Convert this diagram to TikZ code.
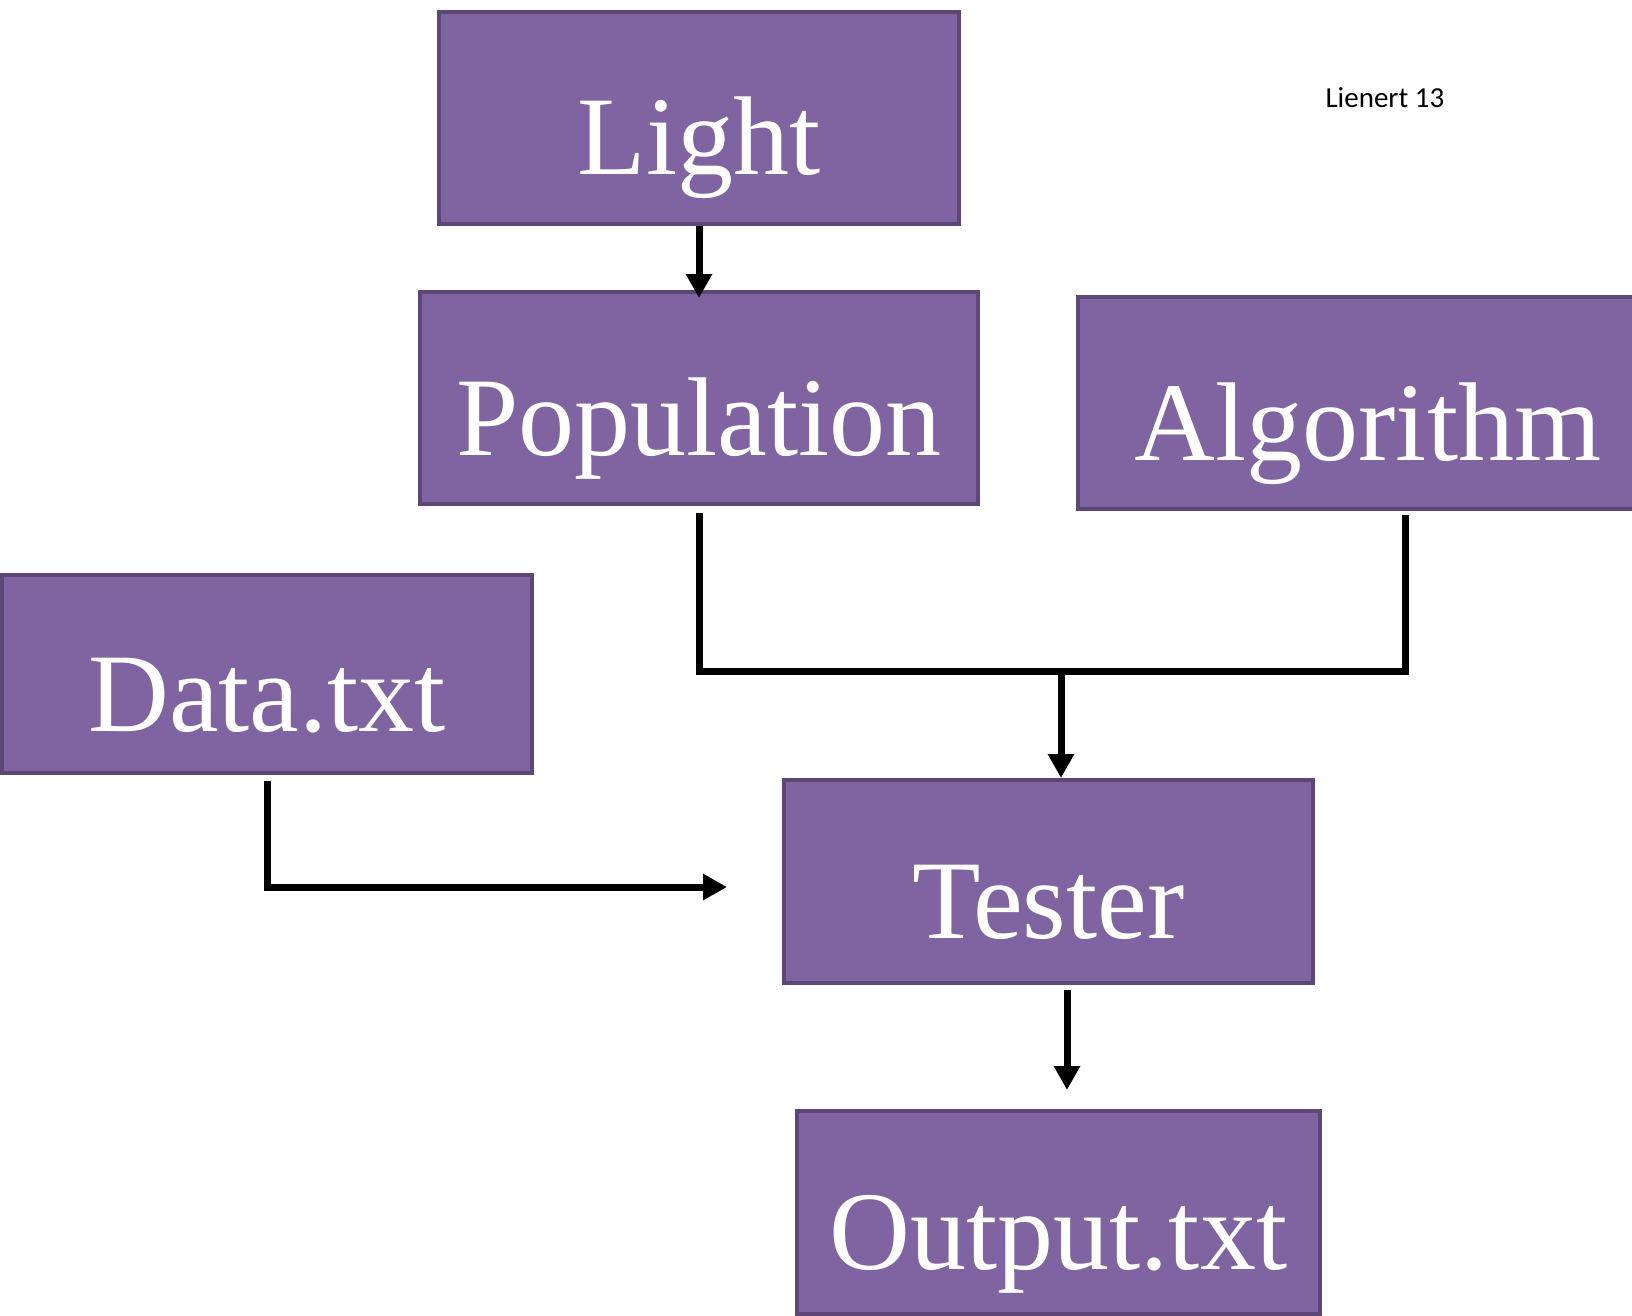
\documentclass[tikz,border=0pt]{standalone}
\usepackage{fontspec}
\setmainfont{Liberation Serif}
\newfontfamily\notefont{Carlito}
\usetikzlibrary{positioning,arrows.meta}
\definecolor{boxfill}{RGB}{128,100,162}
\definecolor{boxline}{RGB}{92,71,118}
\tikzset{
	block/.style={draw=boxline,fill=boxfill,line width=4pt,text=white,inner sep=0pt,
		font=\fontsize{112}{112}\selectfont,text height=158pt,text depth=45pt,anchor=north},
	tall/.style={text height=163pt,text depth=49pt},
	link/.style={line width=7pt},
	flow/.style={link,-{Triangle[length=24pt,width=25pt]}}
}
\begin{document}
\begin{tikzpicture}[x=1pt,y=1pt]
		\clip (0,0) rectangle (1632,-1316);
		% boxes
		\node[block,tall,minimum width=520pt] (light) at (699,-10) {Light};
		\node[block,tall,minimum width=558pt] (pop) at (699,-290) {Population};
		\node[block,tall,minimum width=580pt] (alg) at (1368,-295) {Algorithm};
		\node[block,text height=156pt,text depth=42pt,minimum width=530pt] (data) at (267,-573) {Data.txt};
		\node[block,minimum width=529pt] (tester) at (1048.5,-778) {Tester};
		\node[block,minimum width=523pt] (out) at (1058.5,-1109) {Output.txt};
		\node[font=\notefont\fontsize{29}{29}\selectfont,anchor=base west] (note) at (1322,-108) {Lienert 13};
		% connectors
		\coordinate (join) at (1061,-671);
		\coordinate (feed) at (727,-887);
		\coordinate (tout) at (1067,-1090);
		\draw[flow] (light.south) -- ([yshift=-8pt]pop.north);
		\draw[link] ([yshift=-7pt]pop.south) |- (join) -| ([xshift=37pt,yshift=-4pt]alg.south);
		\draw[flow] (join) -- (join |- tester.north);
		\draw[flow] ([yshift=-6pt]data.south) |- (feed);
		\draw[flow] ([yshift=-5pt]tout |- tester.south) -- (tout);
\end{tikzpicture}
\end{document}
